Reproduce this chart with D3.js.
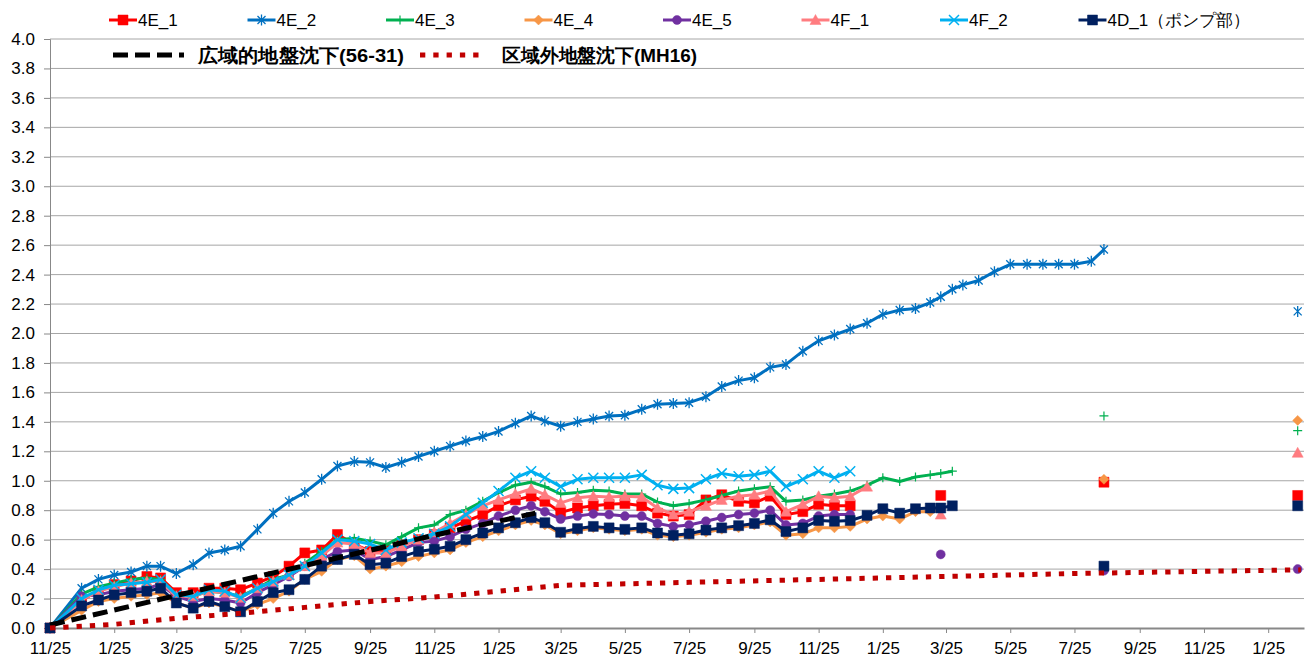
<!DOCTYPE html>
<html>
<head>
<meta charset="utf-8">
<script src="https://cdnjs.cloudflare.com/ajax/libs/d3/7.8.5/d3.min.js"></script>
<style>
    body { margin: 0; background: #fff; }
    text { font-family: "Liberation Sans", Arial, sans-serif; fill: #000; }
</style>
</head>
<body>
<div id="chart"></div>
<script>
// survey dates shared by the eight gauges
var surveyDates = [
    "2013-11-25", "2013-12-25",
    "2014-01-10", "2014-01-25", "2014-02-10", "2014-02-25", "2014-03-10", "2014-03-25",
    "2014-04-10", "2014-04-25", "2014-05-10", "2014-05-25", "2014-06-10", "2014-06-25",
    "2014-07-10", "2014-07-25", "2014-08-10", "2014-08-25", "2014-09-10", "2014-09-25",
    "2014-10-10", "2014-10-25", "2014-11-10", "2014-11-25", "2014-12-10", "2014-12-25",
    "2015-01-10", "2015-01-25", "2015-02-10", "2015-02-25", "2015-03-10", "2015-03-25",
    "2015-04-10", "2015-04-25", "2015-05-10", "2015-05-25", "2015-06-10", "2015-06-25",
    "2015-07-10", "2015-07-25", "2015-08-10", "2015-08-25", "2015-09-10", "2015-09-25",
    "2015-10-10", "2015-10-25", "2015-11-10", "2015-11-25", "2015-12-10", "2015-12-25",
    "2016-01-10", "2016-01-25", "2016-02-10", "2016-02-25", "2016-03-10", "2016-03-20",
    "2016-03-31", "2016-04-10", "2016-04-25", "2016-05-10", "2016-05-25", "2016-06-10",
    "2016-06-25", "2016-07-10", "2016-07-25", "2016-08-10", "2016-08-22"
];

var v4E_1 = [
    0.00, 0.19,
    0.25, 0.295, 0.32, 0.35, 0.34, 0.24, 0.24, 0.27, 0.27, 0.26, 0.305, 0.35,
    0.42, 0.51, 0.53, 0.635, 0.57, 0.52, 0.53, 0.565, 0.60, 0.635, 0.68, 0.725,
    0.77, 0.83, 0.87, 0.895, 0.86, 0.785, 0.815, 0.83, 0.84, 0.845, 0.83, 0.78,
    0.76, 0.77, 0.87, 0.905, 0.86, 0.85, 0.895, 0.77, 0.79, 0.84, 0.83, 0.83,
    null, null, null, null, null, 0.90,
    null, null, null, null, null, null, null, null, null, null, 0.99
];
var v4E_2 = [
    0.00, 0.27,
    0.33, 0.36, 0.38, 0.42, 0.42, 0.37, 0.43, 0.51, 0.53, 0.555, 0.67, 0.78,
    0.86, 0.92, 1.01, 1.10, 1.13, 1.125, 1.09, 1.125, 1.165, 1.20, 1.235, 1.27,
    1.30, 1.335, 1.39, 1.44, 1.405, 1.37, 1.40, 1.42, 1.44, 1.445, 1.485, 1.52,
    1.525, 1.53, 1.57, 1.64, 1.68, 1.70, 1.77, 1.79, 1.88, 1.95, 1.99, 2.03,
    2.07, 2.13, 2.16, 2.17, 2.21, 2.25,
    2.30, 2.33, 2.36, 2.42, 2.47, 2.47, 2.47, 2.47, 2.47, 2.49, 2.57
];
var v4E_3 = [
    0.00, 0.23,
    0.28, 0.305, 0.33, 0.34, 0.33, 0.225, 0.215, 0.25, 0.24, 0.215, 0.27, 0.33,
    0.36, 0.44, 0.52, 0.60, 0.61, 0.59, 0.565, 0.62, 0.68, 0.70, 0.77, 0.80,
    0.86, 0.92, 0.97, 0.99, 0.96, 0.91, 0.92, 0.935, 0.93, 0.91, 0.91, 0.855,
    0.83, 0.845, 0.87, 0.90, 0.93, 0.945, 0.96, 0.86, 0.87, 0.895, 0.91, 0.93,
    0.97, 1.02, 0.995, 1.025, 1.04, 1.05,
    1.065, null, null, null, null, null, null, null, null, null, 1.44
];
var v4E_4 = [
    0.00, 0.12,
    0.18, 0.20, 0.215, 0.225, 0.24, 0.17, 0.135, 0.17, 0.145, 0.11, 0.16, 0.20,
    0.25, 0.33, 0.385, 0.465, 0.49, 0.40, 0.42, 0.45, 0.485, 0.51, 0.53, 0.58,
    0.62, 0.66, 0.70, 0.73, 0.70, 0.64, 0.66, 0.68, 0.67, 0.66, 0.67, 0.63,
    0.62, 0.63, 0.65, 0.67, 0.68, 0.70, 0.72, 0.63, 0.64, 0.68, 0.68, 0.69,
    0.74, 0.76, 0.74, 0.79, 0.79, 0.80,
    null, null, null, null, null, null, null, null, null, null, 1.01
];
var v4E_5 = [
    0.00, 0.215,
    0.225, 0.25, 0.26, 0.27, 0.295, 0.215, 0.18, 0.20, 0.19, 0.17, 0.24, 0.295,
    0.35, 0.42, 0.465, 0.52, 0.53, 0.465, 0.485, 0.53, 0.58, 0.59, 0.62, 0.67,
    0.71, 0.76, 0.80, 0.83, 0.79, 0.74, 0.76, 0.775, 0.77, 0.76, 0.76, 0.71,
    0.69, 0.70, 0.725, 0.75, 0.77, 0.78, 0.80, 0.70, 0.71, 0.76, 0.77, 0.77,
    null, null, null, null, null, 0.50,
    null, null, null, null, null, null, null, null, null, null, 0.39
];
var v4F_1 = [
    0.00, 0.19,
    0.25, 0.28, 0.305, 0.315, 0.315, 0.215, 0.215, 0.25, 0.24, 0.205, 0.27, 0.315,
    0.36, 0.42, 0.49, 0.58, 0.57, 0.51, 0.51, 0.555, 0.60, 0.65, 0.71, 0.77,
    0.83, 0.87, 0.91, 0.945, 0.905, 0.85, 0.885, 0.895, 0.89, 0.895, 0.89, 0.815,
    0.77, 0.79, 0.83, 0.87, 0.895, 0.905, 0.93, 0.79, 0.84, 0.895, 0.885, 0.895,
    0.96, null, null, null, null, 0.77,
    null, null, null, null, null, null, null, null, null, null, null
];
var v4F_2 = [
    0.00, 0.20,
    0.26, 0.29, 0.30, 0.31, 0.33, 0.225, 0.215, 0.26, 0.25, 0.205, 0.27, 0.315,
    0.36, 0.42, 0.51, 0.60, 0.59, 0.57, 0.53, 0.58, 0.61, 0.64, 0.69, 0.77,
    0.85, 0.93, 1.02, 1.065, 1.02, 0.96, 1.01, 1.02, 1.02, 1.02, 1.04, 0.97,
    0.945, 0.95, 1.01, 1.05, 1.03, 1.04, 1.065, 0.96, 1.01, 1.065, 1.02, 1.065,
    null, null, null, null, null, null,
    null, null, null, null, null, null, null, null, null, null, null
];
var v4D_1 = [
    0.00, 0.15,
    0.19, 0.225, 0.24, 0.25, 0.27, 0.17, 0.135, 0.18, 0.145, 0.11, 0.18, 0.24,
    0.26, 0.33, 0.42, 0.465, 0.50, 0.43, 0.44, 0.485, 0.52, 0.535, 0.555, 0.60,
    0.645, 0.68, 0.715, 0.75, 0.715, 0.65, 0.675, 0.69, 0.68, 0.67, 0.68, 0.645,
    0.63, 0.64, 0.665, 0.68, 0.695, 0.71, 0.735, 0.655, 0.68, 0.73, 0.725, 0.73,
    0.765, 0.81, 0.78, 0.81, 0.815, 0.815,
    0.83, null, null, null, null, null, null, null, null, null, 0.42
];

// latest survey, plotted apart from the runs above (no connecting line)
var lastDate = "2017-02-22";
var lastValues = [0.90, 2.15, 1.34, 1.41, 0.40, 1.19, null, 0.83];

// 広域的地盤沈下(56-31)
var wideDates = ["2013-11-25", "2014-11-25", "2015-03-01"];
var wideValues = [0.02, 0.63, 0.78];

// 区域外地盤沈下(MH16)
var outerDates = [
    "2013-11-25", "2014-01-25", "2014-03-25", "2014-05-25", "2014-07-25", "2014-09-25",
    "2014-11-25", "2015-01-25", "2015-03-25", "2015-07-25", "2015-11-25", "2016-03-25",
    "2016-07-25", "2016-11-25", "2017-02-25"
];
var outerValues = [
    0.00, 0.025, 0.065, 0.10, 0.14, 0.18,
    0.21, 0.25, 0.29, 0.31, 0.33, 0.35,
    0.37, 0.385, 0.395
];

var seriesNames = ["4E_1", "4E_2", "4E_3", "4E_4", "4E_5", "4F_1", "4F_2", "4D_1（ポンプ部）"];
var refNames = ["広域的地盤沈下(56-31)", "区域外地盤沈下(MH16)"];

var width = 1313, height = 666;
var parseDate = d3.timeParse("%Y-%m-%d");

var markers = {
    square: { d: "M-5,-5H5V5H-5Z", fill: true },
    star: { d: "M-4,-4L4,4M-4,4L4,-4M0,-5.5V5.5", fill: false, w: 1.3 },
    plus: { d: "M-4.5,0H4.5M0,-4.5V4.5", fill: false, w: 1.2 },
    diamond: { d: "M0,-5L5,0L0,5L-5,0Z", fill: true },
    circle: { d: "M4.5,0A4.5,4.5,0,1,1,-4.5,0A4.5,4.5,0,1,1,4.5,0Z", fill: true },
    triangle: { d: "M0,-5.5L5.5,4.5H-5.5Z", fill: true },
    cross: { d: "M-5,-5L5,5M-5,5L5,-5", fill: false, w: 1.5 }
};

var series = [
    { name: seriesNames[0], values: v4E_1, color: "#FF0000", marker: "square" },
    { name: seriesNames[1], values: v4E_2, color: "#0070C0", marker: "star" },
    { name: seriesNames[2], values: v4E_3, color: "#00B050", marker: "plus" },
    { name: seriesNames[3], values: v4E_4, color: "#F79646", marker: "diamond" },
    { name: seriesNames[4], values: v4E_5, color: "#7030A0", marker: "circle" },
    { name: seriesNames[5], values: v4F_1, color: "#FF7C80", marker: "triangle" },
    { name: seriesNames[6], values: v4F_2, color: "#00B0F0", marker: "cross" },
    { name: seriesNames[7], values: v4D_1, color: "#002060", marker: "square" }
];

var svg = d3.select("#chart")
    .append("svg")
    .attr("width", width)
    .attr("height", height);

var x = d3.scaleTime()
    .domain([parseDate("2013-11-25"), parseDate("2017-02-28")])
    .range([50, 1304]);

var y = d3.scaleLinear()
    .domain([0, 4])
    .range([628, 39]);

// horizontal grid
svg.append("g")
    .selectAll("line")
    .data(y.ticks(20).filter(function (d) { return d > 0; }))
    .enter().append("line")
    .attr("x1", 50).attr("x2", 1304)
    .attr("y1", function (d) { return y(d); })
    .attr("y2", function (d) { return y(d); })
    .attr("stroke", "#a6a6a6")
    .attr("stroke-width", 1);

// y axis
var yAxis = svg.append("g")
    .attr("transform", "translate(50,0)")
    .call(d3.axisLeft(y).ticks(20).tickFormat(d3.format(".1f")).tickSize(6).tickPadding(9));
yAxis.select(".domain").attr("stroke", "#888");
yAxis.selectAll(".tick line").attr("stroke", "#888");
yAxis.selectAll(".tick text").attr("font-size", 17).attr("font-family", "Liberation Sans, Arial, sans-serif").attr("fill", "#000");

// x axis, every second month on the 25th
var xTicks = d3.timeMonths(new Date(2013, 10, 1), new Date(2017, 1, 1), 2)
    .map(function (d) { return new Date(d.getFullYear(), d.getMonth(), 25); });

var xAxis = svg.append("g")
    .attr("transform", "translate(0,628)")
    .call(d3.axisBottom(x).tickValues(xTicks).tickFormat(d3.timeFormat("%-m/%d")).tickSize(5).tickPadding(9).tickSizeOuter(0));
xAxis.select(".domain").attr("stroke", "#888").attr("stroke-width", 2);
xAxis.selectAll(".tick line").attr("stroke", "#888");
xAxis.selectAll(".tick text").attr("font-size", 17).attr("font-family", "Liberation Sans, Arial, sans-serif").attr("fill", "#000");

var dates = surveyDates.map(parseDate);
var lastT = parseDate(lastDate);

var line = d3.line()
    .defined(function (d) { return d.v != null; })
    .x(function (d) { return x(d.t); })
    .y(function (d) { return y(d.v); });

function drawMarker(sel, m, color) {
    var mk = markers[m];
    sel.attr("d", mk.d)
        .attr("fill", mk.fill ? color : "none")
        .attr("stroke", color)
        .attr("stroke-width", mk.fill ? 0.5 : mk.w);
}

var plot = svg.append("g");

series.forEach(function (s, k) {
    var pts = dates.map(function (t, i) { return { t: t, v: s.values[i] }; });
    var g = plot.append("g");

    g.append("path")
        .datum(pts)
        .attr("fill", "none")
        .attr("stroke", s.color)
        .attr("stroke-width", 3)
        .attr("stroke-linejoin", "round")
        .attr("d", line);

    var marks = pts.concat([{ t: lastT, v: lastValues[k] }])
        .filter(function (d) { return d.v != null; });

    g.selectAll(".mk")
        .data(marks)
        .enter().append("path")
        .attr("class", "mk")
        .attr("transform", function (d) { return "translate(" + x(d.t) + "," + y(d.v) + ")"; })
        .call(drawMarker, s.marker, s.color);
});

var refLine = d3.line()
    .x(function (d) { return x(d.t); })
    .y(function (d) { return y(d.v); });

plot.append("path")
    .datum(wideDates.map(function (d, i) { return { t: parseDate(d), v: wideValues[i] }; }))
    .attr("fill", "none")
    .attr("stroke", "#000")
    .attr("stroke-width", 5)
    .attr("stroke-dasharray", "15,7")
    .attr("d", refLine);

plot.append("path")
    .datum(outerDates.map(function (d, i) { return { t: parseDate(d), v: outerValues[i] }; }))
    .attr("fill", "none")
    .attr("stroke", "#C00000")
    .attr("stroke-width", 5)
    .attr("stroke-dasharray", "5.3,8")
    .attr("d", refLine);

// legend, first row
var legend = svg.append("g");
series.forEach(function (s, i) {
    var cx = 123 + i * 138.5;
    var item = legend.append("g").attr("transform", "translate(" + cx + ",20)");
    item.append("line")
        .attr("x1", -14).attr("x2", 14)
        .attr("stroke", s.color)
        .attr("stroke-width", 3);
    item.append("path").call(drawMarker, s.marker, s.color);
    item.append("text")
        .attr("x", 15)
        .attr("y", 6)
        .attr("font-size", 17)
        .attr("font-family", "Liberation Sans, 'Noto Sans CJK JP', sans-serif")
        .text(s.name);
});

// legend, second row
var legend2 = svg.append("g").attr("transform", "translate(0,55)");
legend2.append("line")
    .attr("x1", 113).attr("x2", 184)
    .attr("stroke", "#000").attr("stroke-width", 5)
    .attr("stroke-dasharray", "15,7");
legend2.append("text")
    .attr("x", 198).attr("y", 7)
    .attr("font-size", 19).attr("font-weight", "bold")
    .attr("font-family", "'Noto Sans CJK JP', sans-serif")
    .attr("textLength", 206).attr("lengthAdjust", "spacingAndGlyphs")
    .text(refNames[0]);
legend2.append("line")
    .attr("x1", 420).attr("x2", 484)
    .attr("stroke", "#C00000").attr("stroke-width", 5)
    .attr("stroke-dasharray", "5.3,8");
legend2.append("text")
    .attr("x", 502).attr("y", 7)
    .attr("font-size", 19).attr("font-weight", "bold")
    .attr("font-family", "'Noto Sans CJK JP', sans-serif")
    .attr("textLength", 195).attr("lengthAdjust", "spacingAndGlyphs")
    .text(refNames[1]);
</script>
</body>
</html>
